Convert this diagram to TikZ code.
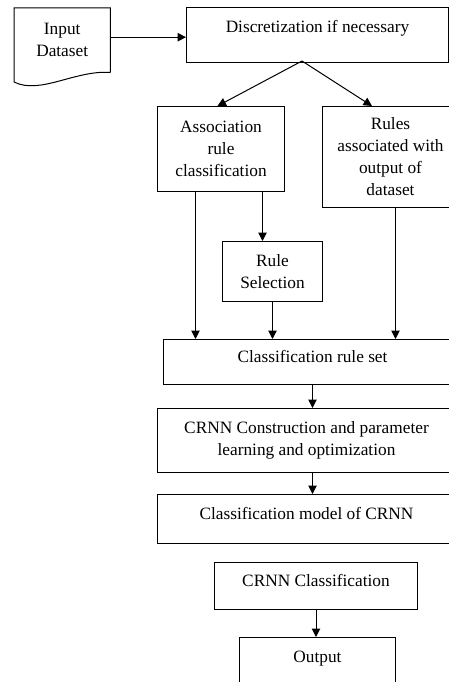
\documentclass[tikz,border=0pt]{standalone}
\usepackage{fontspec}
\setmainfont{Liberation Serif}
\usetikzlibrary{arrows.meta}
\begin{document}
\begin{tikzpicture}[x=1pt,y=-1pt,
  box/.style={draw, line width=1pt, anchor=north west, align=center, inner sep=2pt, font=\fontsize{17.3}{22}\selectfont},
  plain/.style={anchor=north west, align=center, inner sep=2pt, font=\fontsize{17.3}{22}\selectfont},
  raised/.style={text depth=12pt},
  arr/.style={line width=1pt, -{Triangle[length=8.5pt,width=8.5pt]}},
  lin/.style={line width=1pt}]
\useasboundingbox (0,0) rectangle (449,682);
\clip (0,0) rectangle (449,682);
\fill[white] (0,0) rectangle (449,682);

% input document
\node[plain, minimum width=96pt, minimum height=64pt] (in) at (14,8) {Input\\Dataset};
\draw[lin] (in.south east) -- (in.north east) -- (in.north west) -- (14,82)
  .. controls (40,95) and (75,70) .. (in.south east);

\node[box, minimum width=262pt, minimum height=55pt, text depth=17pt] (disc) at (186,7) {Discretization if necessary};
\node[box, minimum width=127pt, minimum height=85pt] (assoc) at (157,106) {Association\\rule\\classification};
\node[box, minimum width=136pt, minimum height=101pt] (rules) at (322,106) {Rules\\associated with\\output of\\dataset};
\node[box, minimum width=100pt, minimum height=60pt] (rulesel) at (222,241) {Rule\\Selection};
\node[box, raised, minimum width=298pt, minimum height=45pt] (crs) at (163,339) {Classification rule set};
\node[box, minimum width=298pt, minimum height=64pt] (crnn) at (157,408) {CRNN Construction and parameter\\learning and optimization};
\node[box, raised, minimum width=298pt, minimum height=49pt] (model) at (157,494) {Classification model of CRNN};
\node[box, raised, minimum width=203pt, minimum height=47pt] (crnncls) at (214,562) {CRNN Classification};
\node[box, raised, minimum width=156pt, minimum height=50pt] (output) at (239,637) {Output};

% connectors
\draw[arr] ([yshift=3pt]in.east) -- ([yshift=3pt]in.east -| disc.west);
\coordinate (split) at (302,61);
\draw[arr] (split) -- ([xshift=-3.5pt]assoc.north);
\draw[arr] (split) -- ([xshift=50pt]rules.north west);
\draw[arr] ([xshift=41.5pt]assoc.south) -- ([xshift=41.5pt]assoc.south |- rulesel.north);
\draw[arr] ([xshift=-25.5pt]assoc.south) -- ([xshift=-25.5pt]assoc.south |- crs.north);
\draw[arr] (rulesel.south) -- (rulesel.south |- crs.north);
\draw[arr] ([xshift=5pt]rules.south) -- ([xshift=5pt]rules.south |- crs.north);
\draw[arr] (crs.south) -- (crs.south |- crnn.north);
\draw[arr] (crs.south |- crnn.south) -- (crs.south |- model.north);
\draw[arr] (crnncls.south) -- (crnncls.south |- output.north);
\end{tikzpicture}
\end{document}
